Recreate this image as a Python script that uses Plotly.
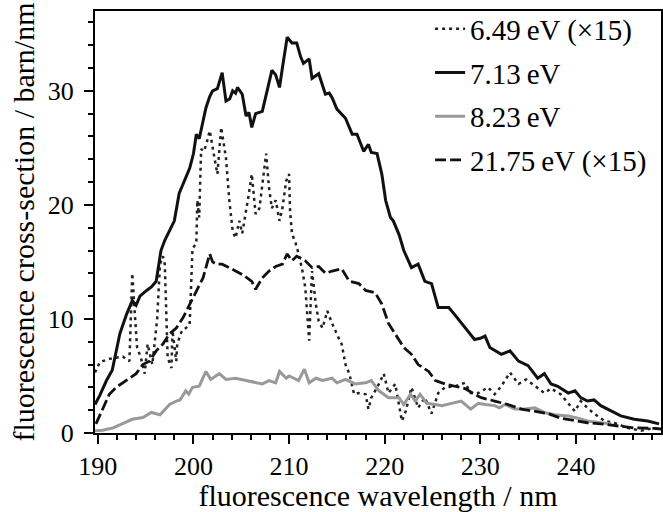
import plotly.graph_objects as go

# --- data (wavelength nm, cross-section barn/nm) ---
wl_649 = [189.7, 190.2, 190.5, 191.2, 191.9, 192.6, 193.3, 193.6, 193.9, 194.1, 194.5, 194.9,
          195.2, 195.7, 196.2, 196.5, 196.8, 197.0, 197.3, 197.7, 197.8, 198.2, 198.3, 198.8,
          199.2, 199.6, 199.9, 200.3, 200.4, 200.6, 200.8, 201.1, 201.4, 201.7, 202.2, 202.5,
          202.9, 203.4, 203.75, 204.1, 204.4, 204.8, 205.1, 205.5, 205.8, 206.1, 206.5, 206.9,
          207.6, 207.9, 208.2, 208.6, 209.0, 209.3, 209.7, 210.0, 210.1, 210.3, 210.7, 211.0,
          211.4, 211.7, 212.1, 212.4, 212.8, 213.1, 213.5, 214.0, 214.5, 215.2, 215.5, 215.9,
          216.3, 216.8, 217.3, 218.0, 218.3, 218.6, 219.4, 219.9, 220.4, 221.1, 221.8, 222.2,
          222.8, 223.5, 224.2, 224.9, 225.6, 226.3, 227.4, 228.4, 229.0, 229.8, 230.8, 231.5,
          232.2, 233.1, 234.0, 234.8, 235.7, 236.7, 237.4, 238.4, 239.0, 239.9, 240.5, 241.2,
          241.9, 243.0, 244.0, 245.4, 246.8, 248.2, 248.9]
cs_649 = [5.3, 6.2, 6.3, 6.5, 6.6, 6.7, 6.3, 14.0, 10.0, 7.5, 6.6, 5.2,
          7.8, 6.0, 10.0, 14.8, 15.5, 14.8, 6.6, 5.7, 9.0, 6.3, 7.8, 9.0,
          9.2, 9.5, 16.2, 16.6, 20.4, 18.9, 24.9, 24.7, 25.5, 26.5, 24.1, 22.7,
          26.8, 24.1, 20.4, 17.7, 17.1, 18.6, 17.5, 19.4, 21.0, 22.7, 19.2, 19.7,
          24.5, 21.5, 19.7, 20.4, 18.6, 19.7, 22.1, 22.7, 19.5, 17.5, 16.6, 15.7,
          14.2, 12.7, 8.1, 14.2, 11.3, 9.8, 9.2, 10.7, 9.6, 8.3, 7.8, 6.0,
          5.2, 3.4, 3.5, 3.4, 2.1, 3.1, 4.3, 5.2, 3.5, 4.3, 1.05, 1.9,
          4.0, 2.2, 3.1, 1.7, 3.5, 4.0, 4.1, 4.4, 3.5, 3.5, 4.0, 3.4,
          4.1, 5.3, 4.3, 4.7, 4.1, 3.5, 3.9, 3.4, 2.8, 1.9, 2.8, 2.2,
          1.7, 1.05, 0.9, 0.45, 0.2, 0.45, 0.3]

wl_713 = [189.7, 190.2, 190.9, 191.5, 192.0, 192.3, 193.0, 193.6, 194.0, 194.4, 195.1, 195.6,
          196.1, 196.6, 197.0, 197.5, 198.0, 198.5, 199.0, 199.6, 200.0, 200.3, 200.6, 201.0,
          201.3, 201.7, 202.0, 202.5, 203.0, 203.4, 203.8, 204.1, 204.4, 204.6, 205.1, 205.5,
          205.8, 206.1, 206.5, 207.2, 207.7, 208.2, 208.6, 209.0, 209.3, 209.8, 210.3, 210.8,
          211.2, 211.5, 212.1, 212.4, 213.1, 213.8, 214.2, 214.5, 215.0, 215.5, 215.9, 216.6,
          217.1, 217.8, 218.3, 218.6, 219.2, 219.7, 220.1, 220.6, 220.9, 221.5, 222.0, 222.8,
          223.5, 224.2, 224.9, 225.6, 226.7, 227.3, 228.4, 229.4, 230.0, 230.5, 231.0, 232.2,
          233.1, 234.0, 235.0, 236.0, 236.7, 237.4, 238.1, 239.2, 239.9, 240.5, 241.2, 241.9,
          242.6, 243.7, 244.7, 246.1, 247.5, 248.7]
cs_713 = [2.5, 3.3, 4.6, 5.5, 7.5, 8.7, 10.4, 11.6, 11.2, 12.0, 12.5, 12.8,
          13.3, 16.0, 16.9, 17.7, 18.6, 21.0, 22.0, 23.2, 24.5, 26.2, 25.8, 27.5,
          28.5, 29.5, 30.0, 30.2, 31.6, 29.1, 29.3, 30.0, 29.8, 30.3, 29.7, 27.8,
          28.1, 26.8, 28.0, 28.2, 30.0, 31.8, 31.4, 30.3, 32.0, 34.7, 34.2, 34.2,
          33.0, 32.4, 32.8, 31.1, 31.5, 29.7, 29.8, 29.4, 28.4, 28.0, 27.6, 26.2,
          26.2, 24.7, 25.3, 24.6, 24.5, 22.7, 20.4, 18.9, 18.6, 17.4, 16.0, 14.5,
          14.8, 13.3, 13.1, 11.0, 11.0, 10.4, 9.2, 8.2, 8.3, 8.5, 7.5, 6.9,
          7.2, 6.3, 5.9, 4.8, 5.2, 4.3, 4.1, 3.5, 3.7, 3.1, 2.8, 2.9,
          2.4, 1.9, 1.5, 1.2, 1.05, 0.8]

wl_823 = [189.7, 190.5, 191.6, 192.6, 193.6, 194.7, 195.6, 196.5, 197.5, 198.2, 198.6, 199.2,
          199.5, 199.9, 200.6, 201.3, 201.8, 202.7, 203.4, 204.4, 205.5, 206.5, 207.2, 207.9,
          208.6, 209.0, 209.7, 210.0, 211.0, 211.6, 212.1, 212.8, 213.5, 214.5, 215.0, 215.9,
          216.9, 218.0, 218.6, 219.4, 220.4, 221.5, 222.0, 222.7, 223.2, 223.7, 224.4, 225.3,
          226.0, 227.0, 228.0, 229.0, 229.8, 230.5, 231.5, 232.0, 232.6, 233.6, 234.7, 235.7,
          236.7, 237.8, 239.2, 240.2, 241.2, 242.6, 243.7]
cs_823 = [0.2, 0.25, 0.45, 0.8, 1.2, 1.35, 1.8, 1.6, 2.5, 2.8, 2.9, 3.7,
          3.4, 4.0, 4.1, 5.4, 4.7, 5.2, 4.7, 4.8, 4.6, 4.4, 4.3, 4.6,
          4.4, 5.4, 4.8, 5.0, 4.6, 5.6, 4.4, 4.8, 4.6, 4.8, 4.4, 4.7,
          4.3, 4.4, 4.6, 3.7, 3.1, 3.1, 2.5, 3.4, 2.8, 3.4, 2.6, 2.5,
          2.4, 2.6, 2.8, 2.1, 2.6, 2.5, 2.4, 2.2, 2.5, 2.1, 2.1, 2.2,
          1.8, 1.6, 1.5, 1.3, 1.05, 0.9, 0.8]

wl_2175 = [189.8, 190.4, 191.2, 191.9, 192.6, 193.3, 194.0, 194.7, 195.4, 196.1, 196.8, 197.5,
           198.2, 198.9, 199.6, 200.3, 201.0, 201.7, 202.0, 202.4, 203.0, 203.75, 204.4, 205.1,
           206.1, 206.5, 207.2, 207.9, 208.6, 209.3, 209.8, 210.3, 210.8, 211.7, 212.4, 213.1,
           213.8, 214.5, 215.5, 216.3, 217.3, 218.0, 219.0, 219.7, 220.4, 221.1, 222.0, 222.8,
           223.5, 224.6, 225.3, 226.3, 227.4, 228.4, 229.4, 230.1, 231.5, 232.9, 234.3, 235.7,
           237.1, 238.4, 239.9, 241.2, 242.6, 244.4, 246.1, 248.2, 248.9]
cs_2175 = [0.8, 1.9, 3.4, 4.0, 4.4, 4.8, 5.2, 6.0, 6.3, 7.2, 7.8, 8.7,
           9.2, 10.1, 11.3, 12.5, 13.6, 15.7, 15.0, 14.8, 14.8, 14.5, 14.2, 13.9,
           13.3, 12.6, 13.6, 14.2, 14.6, 14.8, 15.7, 15.1, 15.5, 15.1, 14.5, 14.6,
           14.0, 14.2, 14.4, 13.3, 13.1, 12.5, 12.3, 11.3, 9.6, 8.7, 7.5, 6.9,
           6.0, 5.4, 4.6, 4.3, 4.1, 3.9, 3.4, 3.1, 2.8, 2.5, 2.1, 1.9,
           1.7, 1.3, 1.05, 0.9, 0.8, 0.6, 0.45, 0.4, 0.35]

labels = ["6.49\u2009eV (\u00d715)", "7.13\u2009eV", "8.23\u2009eV", "21.75\u2009eV (\u00d715)"]

FONT = "Liberation Serif"

fig = go.Figure()
series = [
    (wl_649, cs_649, dict(color="#222222", width=2.5, dash="3px,4px")),
    (wl_713, cs_713, dict(color="#111111", width=3)),
    (wl_823, cs_823, dict(color="#999999", width=3)),
    (wl_2175, cs_2175, dict(color="#111111", width=2.8, dash="11px,4px")),
]
for i, (x, y, ln) in enumerate(series):
    fig.add_trace(go.Scatter(x=x, y=y, mode="lines", line=ln, name=labels[i],
                             legendgroup=str(i)))

axis_common = dict(
    showline=True, linecolor="black", linewidth=2, mirror=True,
    ticks="outside", tickcolor="black", tickwidth=2, ticklen=9,
    showgrid=False, zeroline=False, automargin=False,
    tickfont=dict(family=FONT, size=26, color="black"),
)

fig.update_xaxes(range=[189.7, 248.9], dtick=10, tick0=190,
                 minor=dict(dtick=2, tick0=190, ticks="outside", ticklen=5, tickwidth=2, tickcolor="black"),
                 title=dict(text="fluorescence wavelength / nm", standoff=0,
                            font=dict(family=FONT, size=30, color="black")),
                 **axis_common)
fig.update_yaxes(range=[0, 37], dtick=10, tick0=0, ticklabelstandoff=5,
                 minor=dict(dtick=2, tick0=0, ticks="outside", ticklen=5, tickwidth=2, tickcolor="black"),
                 title=dict(text="fluorescence cross-section / barn/nm", standoff=4,
                            font=dict(family=FONT, size=30, color="black")),
                 **axis_common)

fig.update_layout(
    width=663, height=512,
    margin=dict(l=95, r=2, t=11, b=79),
    plot_bgcolor="white", paper_bgcolor="white",
    font=dict(family=FONT, size=26, color="black"),
    legend=dict(x=0.592, y=1.018, xanchor="left", yanchor="top",
                bgcolor="rgba(0,0,0,0)", tracegroupgap=3,
                font=dict(family=FONT, size=29, color="black")),
)

# the page body has a default 8px margin; drop it so the figure fills the window
fig.write_html("out.html", config={"displayModeBar": False},
               post_script="document.body.style.margin='0';")
